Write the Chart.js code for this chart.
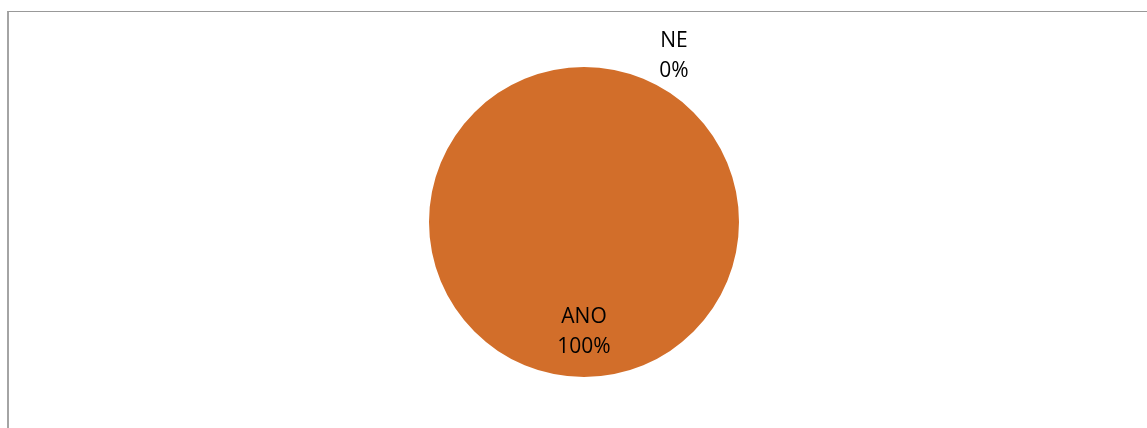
<!DOCTYPE html>
<html>
<head>
<meta charset="utf-8">
<script src="https://cdn.jsdelivr.net/npm/chart.js@4"></script>
<style>
  html, body { margin: 0; padding: 0; background: #fff; }
  #wrap { position: relative; width: 1147px; height: 428px; overflow: hidden; }
  #frame { position: absolute; left: 7px; top: 11px; right: -2px; bottom: -2px;
           border-top: 1px solid #999; border-left: 2px solid #a4a4a4; }
  canvas { position: absolute; left: 0; top: 0; }
</style>
</head>
<body>
<div id="wrap">
  <div id="frame"></div>
  <canvas id="c" width="1147" height="428"></canvas>
</div>
<script>
const categories = ["ANO", "NE"];
const values = [100, 0];
const percentLabels = ["100%", "0%"];
const colors = ["#D26E2A", "#4472C4"];

const labelPlugin = {
  id: 'pieLabels',
  afterDatasetsDraw(chart) {
    const ctx = chart.ctx;
    const meta = chart.getDatasetMeta(0);
    ctx.save();
    ctx.font = '21px "Open Sans", "Noto Sans", sans-serif';
    ctx.fillStyle = '#000';
    ctx.textAlign = 'center';
    ctx.textBaseline = 'middle';
    meta.data.forEach((arc, i) => {
      const p = arc.getProps(['x', 'y', 'startAngle', 'endAngle', 'outerRadius'], true);
      const mid = (p.startAngle + p.endAngle) / 2;
      let x, y;
      if (values[i] > 0) {
        const r = p.outerRadius * 0.71;
        x = p.x + Math.cos(mid) * r;
        y = p.y + Math.sin(mid) * r;
      } else {
        // zero-size slice: label placed outside, to the upper right of the slice edge
        const ex = p.x + Math.cos(mid) * p.outerRadius;
        const ey = p.y + Math.sin(mid) * p.outerRadius;
        x = ex + 90;
        y = ey - 11;
      }
      ctx.fillText(categories[i], x, y - 15);
      ctx.fillText(percentLabels[i], x, y + 15);
    });
    ctx.restore();
  }
};

new Chart(document.getElementById('c'), {
  type: 'pie',
  data: {
    labels: categories,
    datasets: [{
      data: values,
      backgroundColor: colors,
      borderWidth: 0
    }]
  },
  options: {
    responsive: false,
    animation: false,
    events: [],
    layout: { padding: { top: 67, bottom: 51, left: 21, right: 0 } },
    plugins: { legend: { display: false }, tooltip: { enabled: false } }
  },
  plugins: [labelPlugin]
});
</script>
</body>
</html>
